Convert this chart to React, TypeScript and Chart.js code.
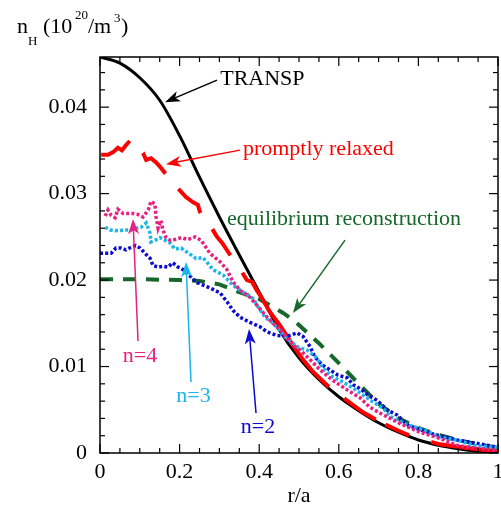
import React, { useEffect, useRef } from "react";
import { Chart, registerables } from "chart.js";

Chart.register(...registerables);

const FONT = "'Liberation Serif', 'Times New Roman', serif";

// ---- axis ticks ----
const xTicks = [0, 0.2, 0.4, 0.6, 0.8, 1];
const xTickLabels = ["0", "0.2", "0.4", "0.6", "0.8", "1"];
const yTicks = [0, 0.01, 0.02, 0.03, 0.04];
const yTickLabels = ["0", "0.01", "0.02", "0.03", "0.04"];
const xMin = 0, xMax = 1, yMin = 0, yMax = 0.0458;

// ---- TRANSP (black solid) ----
const transpX = [0, 0.05, 0.1, 0.15, 0.2, 0.25, 0.3, 0.35, 0.4, 0.45, 0.5, 0.55, 0.6, 0.65, 0.7, 0.75, 0.8, 0.85, 0.9, 0.95, 1.0];
const transpY = [0.0458, 0.0451, 0.0434, 0.0408, 0.0367, 0.0319, 0.0273, 0.0229, 0.0186, 0.0143, 0.0110, 0.0085, 0.0065, 0.0049, 0.0035, 0.0024, 0.0015, 0.0009, 0.0005, 0.0002, 0.0000];

// ---- promptly relaxed (red dashed) ----
const relaxedX = [0.003, 0.02, 0.033, 0.045, 0.055, 0.065, 0.075, 0.108, 0.116, 0.128, 0.141, 0.151, 0.163, 0.196, 0.216, 0.234, 0.246, 0.251, 0.281, 0.294, 0.307, 0.327, 0.357, 0.369, 0.382, 0.394, 0.407, 0.427, 0.452, 0.49, 0.51, 0.535, 0.578, 0.62, 0.661, 0.704, 0.749, 0.779, 0.854, 0.937, 0.997];
const relaxedY = [0.0345, 0.0345, 0.0348, 0.0353, 0.0350, 0.0356, 0.0361, 0.0347, 0.0339, 0.0341, 0.0336, 0.0331, 0.0324, 0.0306, 0.0296, 0.0290, 0.0287, 0.0279, 0.0260, 0.0250, 0.0243, 0.0229, 0.0209, 0.0200, 0.0198, 0.0188, 0.0179, 0.0163, 0.0148, 0.0121, 0.0108, 0.0094, 0.0075, 0.0061, 0.0047, 0.0036, 0.0026, 0.0020, 0.0010, 0.0005, 0.0002];

// ---- equilibrium reconstruction (green dashed) ----
const equilX = [0, 0.1, 0.2, 0.25, 0.3, 0.35, 0.4, 0.43, 0.46, 0.485, 0.5, 0.55, 0.6, 0.65, 0.7, 0.75, 0.8, 0.85, 0.9, 0.95, 1.0];
const equilY = [0.0201, 0.0201, 0.0200, 0.0199, 0.0195, 0.0186, 0.0178, 0.0170, 0.0162, 0.0154, 0.0148, 0.0127, 0.0104, 0.0080, 0.0057, 0.0040, 0.0029, 0.0021, 0.0015, 0.0010, 0.0006];

// ---- n=4 (pink dotted) ----
const n4X = [0.013, 0.02, 0.028, 0.038, 0.045, 0.058, 0.07, 0.083, 0.095, 0.108, 0.121, 0.128, 0.138, 0.141, 0.146, 0.153, 0.158, 0.166, 0.176, 0.188, 0.204, 0.221, 0.239, 0.254, 0.266, 0.276, 0.302, 0.319, 0.334, 0.352, 0.377, 0.394, 0.42, 0.435, 0.46, 0.477, 0.503, 0.528, 0.553, 0.585, 0.621, 0.653, 0.678, 0.704, 0.729, 0.754, 0.804, 0.854, 0.897, 0.937, 0.997];
const n4Y = [0.0274, 0.0281, 0.0275, 0.0272, 0.0282, 0.0277, 0.0277, 0.0277, 0.0276, 0.0273, 0.0281, 0.0291, 0.0288, 0.0273, 0.0260, 0.0269, 0.0258, 0.0249, 0.0246, 0.0247, 0.0249, 0.0247, 0.0250, 0.0246, 0.0238, 0.0231, 0.0221, 0.0212, 0.0198, 0.0188, 0.0180, 0.0171, 0.0157, 0.0150, 0.0139, 0.0128, 0.0119, 0.0108, 0.0096, 0.0084, 0.0073, 0.0064, 0.0053, 0.0046, 0.0040, 0.0034, 0.0024, 0.0017, 0.0009, 0.0006, 0.0003];

// ---- n=3 (light blue dotted) ----
const n3X = [0.013, 0.025, 0.045, 0.063, 0.078, 0.09, 0.103, 0.116, 0.126, 0.128, 0.138, 0.151, 0.163, 0.176, 0.188, 0.204, 0.226, 0.241, 0.259, 0.284, 0.309, 0.334, 0.359, 0.384, 0.397, 0.415, 0.435, 0.457, 0.465, 0.495, 0.52, 0.545, 0.56, 0.585, 0.611, 0.636, 0.661, 0.686, 0.711, 0.73, 0.77, 0.812, 0.854, 0.897, 0.937, 0.997];
const n3Y = [0.0261, 0.0258, 0.0257, 0.0258, 0.0258, 0.0260, 0.0261, 0.0266, 0.0254, 0.0244, 0.0246, 0.0249, 0.0246, 0.0243, 0.0236, 0.0237, 0.0230, 0.0225, 0.0226, 0.0212, 0.0206, 0.0194, 0.0186, 0.0179, 0.0169, 0.0157, 0.0150, 0.0139, 0.0134, 0.0123, 0.0119, 0.0110, 0.0098, 0.0088, 0.0082, 0.0075, 0.0067, 0.0059, 0.0052, 0.0042, 0.0033, 0.0027, 0.0018, 0.0015, 0.0009, 0.0006];

// ---- n=2 (blue dotted) ----
const n2X = [0.0, 0.015, 0.028, 0.04, 0.053, 0.065, 0.078, 0.09, 0.101, 0.113, 0.126, 0.133, 0.146, 0.158, 0.171, 0.183, 0.196, 0.209, 0.244, 0.276, 0.302, 0.319, 0.334, 0.352, 0.377, 0.402, 0.42, 0.445, 0.47, 0.495, 0.51, 0.528, 0.54, 0.558, 0.578, 0.598, 0.621, 0.636, 0.658, 0.673, 0.696, 0.721, 0.746, 0.774, 0.829, 0.897, 0.937, 0.972, 0.997];
const n2Y = [0.0231, 0.0231, 0.0231, 0.0237, 0.0237, 0.0235, 0.0238, 0.0240, 0.0237, 0.0231, 0.0225, 0.0217, 0.0215, 0.0216, 0.0215, 0.0220, 0.0215, 0.0212, 0.0197, 0.0191, 0.0185, 0.0175, 0.0165, 0.0157, 0.0151, 0.0146, 0.0140, 0.0136, 0.0135, 0.0139, 0.0135, 0.0123, 0.0111, 0.0102, 0.0096, 0.0090, 0.0087, 0.0079, 0.0073, 0.0067, 0.0061, 0.0050, 0.0044, 0.0032, 0.0023, 0.0015, 0.0012, 0.0009, 0.0007];

// ---- annotation labels & arrows (data coordinates) ----
const labelTexts = ["TRANSP", "promptly relaxed", "equilibrium reconstruction", "n=4", "n=3", "n=2"];
const labelColors = ["#000000", "#ff0000", "#16672a", "#e8207f", "#1cb4ec", "#0a0ad0"];
const labelX = [0.302, 0.359, 0.3191, 0.1005, 0.235, 0.397];
const labelY = [0.04254, 0.03445, 0.02636, 0.01052, 0.0059, 0.00231];
const labelAlign = ["left", "left", "left", "center", "center", "center"];
const arrowFromX = [0.294, 0.3518, 0.6156, 0.0955, 0.2286, 0.392];
const arrowFromY = [0.04312, 0.03503, 0.02462, 0.01295, 0.00821, 0.00462];
const arrowToX = [0.1633, 0.1658, 0.4849, 0.0829, 0.2161, 0.3744];
const arrowToY = [0.04058, 0.03341, 0.01618, 0.02705, 0.02208, 0.01434];

const pts = (xs: number[], ys: number[]) => xs.map((x, i) => ({ x, y: ys[i] }));

const drawArrow = (ctx: CanvasRenderingContext2D, x0: number, y0: number, x1: number, y1: number, color: string) => {
  const ang = Math.atan2(y1 - y0, x1 - x0);
  const len = 15, half = 5.5, back = 11;
  ctx.strokeStyle = color;
  ctx.fillStyle = color;
  ctx.lineWidth = 1.5;
  ctx.beginPath();
  ctx.moveTo(x0, y0);
  ctx.lineTo(x1 - Math.cos(ang) * back, y1 - Math.sin(ang) * back);
  ctx.stroke();
  const bx = x1 - Math.cos(ang) * len, by = y1 - Math.sin(ang) * len;
  const px = -Math.sin(ang), py = Math.cos(ang);
  ctx.beginPath();
  ctx.moveTo(x1, y1);
  ctx.lineTo(bx + px * half, by + py * half);
  ctx.lineTo(x1 - Math.cos(ang) * back, y1 - Math.sin(ang) * back);
  ctx.lineTo(bx - px * half, by - py * half);
  ctx.closePath();
  ctx.fill();
};

const decorPlugin = {
  id: "decor",
  afterDatasetsDraw(chart: any) {
    const { ctx, chartArea: a, scales } = chart;
    const xs = scales.x, ys = scales.y;
    ctx.save();
    // frame
    ctx.strokeStyle = "#000";
    ctx.lineWidth = 1.5;
    ctx.strokeRect(a.left, a.top, a.right - a.left, a.bottom - a.top);
    // ticks (inward, all sides)
    ctx.lineWidth = 1.2;
    const seg = (x0: number, y0: number, x1: number, y1: number) => {
      ctx.beginPath(); ctx.moveTo(x0, y0); ctx.lineTo(x1, y1); ctx.stroke();
    };
    for (let i = 0; i <= 20; i++) {
      const px = xs.getPixelForValue(xMin + i * 0.05);
      const L = i % 4 === 0 ? 9 : 5;
      seg(px, a.bottom, px, a.bottom - L);
      seg(px, a.top, px, a.top + L);
    }
    for (let i = 0; i <= 22; i++) {
      const v = yMin + i * 0.002;
      if (v > yMax) break;
      const py = ys.getPixelForValue(v);
      const L = i % 5 === 0 ? 9 : 5;
      seg(a.left, py, a.left + L, py);
      seg(a.right, py, a.right - L, py);
    }
    // annotations
    for (let i = 0; i < labelTexts.length; i++) {
      drawArrow(ctx, xs.getPixelForValue(arrowFromX[i]), ys.getPixelForValue(arrowFromY[i]),
        xs.getPixelForValue(arrowToX[i]), ys.getPixelForValue(arrowToY[i]), labelColors[i]);
      ctx.fillStyle = labelColors[i];
      ctx.font = `22px ${FONT}`;
      ctx.textAlign = labelAlign[i];
      ctx.textBaseline = "alphabetic";
      ctx.fillText(labelTexts[i], xs.getPixelForValue(labelX[i]), ys.getPixelForValue(labelY[i]));
    }
    // axis titles
    ctx.fillStyle = "#000";
    ctx.textAlign = "left";
    ctx.textBaseline = "alphabetic";
    ctx.font = `22px ${FONT}`;
    ctx.fillText("n", 17, 33);
    ctx.font = `13px ${FONT}`;
    ctx.fillText("H", 28, 45);
    ctx.font = `22px ${FONT}`;
    ctx.fillText("(10", 43, 33);
    ctx.font = `13px ${FONT}`;
    ctx.fillText("20", 75, 19);
    ctx.font = `22px ${FONT}`;
    ctx.fillText("/m", 88, 33);
    ctx.font = `13px ${FONT}`;
    ctx.fillText("3", 114, 22);
    ctx.font = `22px ${FONT}`;
    ctx.fillText(")", 121, 33);
    ctx.textAlign = "center";
    ctx.fillText("r/a", (a.left + a.right) / 2, 502);
    ctx.restore();
  },
};

export default function App() {
  const ref = useRef<HTMLCanvasElement | null>(null);
  useEffect(() => {
    if (!ref.current) return;
    const dotted = (label: string, xs: number[], ys: number[], color: string, order: number) => ({
      label, data: pts(xs, ys), borderColor: color, borderWidth: 3.5, borderDash: [3, 2.2],
      pointRadius: 0, fill: false, tension: 0, order, borderCapStyle: "butt",
    });
    const chart = new Chart(ref.current, {
      type: "line",
      data: {
        datasets: [
          dotted("n=4", n4X, n4Y, "#e8207f", 0),
          dotted("n=3", n3X, n3Y, "#1cb4ec", 1),
          dotted("n=2", n2X, n2Y, "#0a0ad0", 2),
          {
            label: "promptly relaxed", data: pts(relaxedX, relaxedY), borderColor: "#ff0000", borderWidth: 4,
            borderDash: [36, 18, 34, 20, 34, 20, 32, 21, 145, 19, 38, 11, 26, 23, 300],
            pointRadius: 0, fill: false, tension: 0, order: 3,
          },
          {
            label: "equilibrium reconstruction", data: pts(equilX, equilY), borderColor: "#16672a", borderWidth: 4,
            borderDash: [13, 10], pointRadius: 0, fill: false, tension: 0, order: 4,
          },
          {
            label: "TRANSP", data: pts(transpX, transpY), borderColor: "#000000", borderWidth: 3,
            pointRadius: 0, fill: false, cubicInterpolationMode: "monotone", order: 5,
          },
        ],
      } as any,
      options: {
        responsive: false,
        animation: false,
        devicePixelRatio: 1,
        layout: { padding: { top: 57, right: 3, left: 0, bottom: 0 } },
        plugins: { legend: { display: false }, tooltip: { enabled: false } },
        scales: {
          x: {
            type: "linear", min: xMin, max: xMax,
            grid: { display: false, drawTicks: false }, border: { display: false },
            afterBuildTicks: (s: any) => { s.ticks = xTicks.map((v) => ({ value: v })); },
            afterFit: (s: any) => { s.height = 53; s.paddingLeft = 0; s.paddingRight = 0; },
            ticks: {
              color: "#000", font: { family: FONT, size: 22 }, padding: 6, maxRotation: 0, autoSkip: false,
              callback: (_v: any, i: number) => xTickLabels[i],
            },
          },
          y: {
            type: "linear", min: yMin, max: yMax,
            grid: { display: false, drawTicks: false }, border: { display: false },
            afterBuildTicks: (s: any) => { s.ticks = yTicks.map((v) => ({ value: v })); },
            afterFit: (s: any) => { s.width = 100; s.paddingTop = 0; s.paddingBottom = 0; },
            ticks: {
              color: "#000", font: { family: FONT, size: 22 }, padding: 13, autoSkip: false,
              callback: (_v: any, i: number) => yTickLabels[i],
            },
          },
        },
      } as any,
      plugins: [decorPlugin],
    });
    return () => chart.destroy();
  }, []);
  return (
    <div style={{ position: "absolute", left: 0, top: 0, width: 501, height: 506, background: "#fff" }}>
      <canvas ref={ref} width={501} height={506} style={{ display: "block" }} />
    </div>
  );
}
